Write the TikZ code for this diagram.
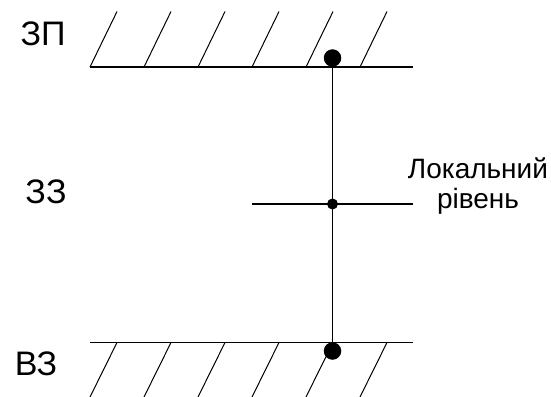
\documentclass[tikz,border=0pt]{standalone}
\usepackage{fontspec}
\setmainfont{Liberation Sans}
\begin{document}
\begin{tikzpicture}[x=1pt,y=-1pt,
  surface/.style={line width=1.3pt},
  hatch/.style={line width=1pt},
  stem/.style={line width=1.2pt},
  bigdot/.style={circle,fill=black,inner sep=0pt,minimum size=17.5pt},
  smalldot/.style={circle,fill=black,inner sep=0pt,minimum size=11pt},
  bigtext/.style={font=\fontsize{34}{40}\selectfont,inner sep=0pt,anchor=base},
  smalltext/.style={font=\fontsize{28}{30}\selectfont,inner sep=0pt,align=center}]
\useasboundingbox (0,0) rectangle (551,396);
% top surface
\coordinate (tl) at (90,67);
\coordinate (tr) at (413,67);
\draw[surface] (tl) -- (tr);
\foreach \k in {0,...,5}{
  \coordinate (tb\k) at (90+54*\k,67);
  \coordinate (tt\k) at (117+54*\k,11.5);
  \draw[hatch] (tb\k) -- (tt\k);
}
% bottom surface
\coordinate (bl) at (90,342.5);
\coordinate (br) at (413,342.5);
\draw[surface] (bl) -- (br);
\foreach \k in {0,...,5}{
  \coordinate (bt\k) at (117+54*\k,342.5);
  \coordinate (bb\k) at (90+54*\k,397);
  \draw[hatch] (bt\k) -- (bb\k);
}
% local level line
\coordinate (ml) at (252,204);
\coordinate (mr) at (413,204);
\draw[stem] (ml) -- (mr);
% dots
\node[bigdot] (top) at (332.5,58) {};
\node[bigdot] (bot) at (332.5,351) {};
\node[smalldot] (mid) at (332.5,204) {};
\draw[stem] (top.center) -- (mid.center) -- (bot.center);
% labels
\node[bigtext] (zp) at (43,46) {ЗП};
\node[bigtext] (zz) at (46,203) {ЗЗ};
\node[bigtext] (vz) at (36,375) {ВЗ};
\node[smalltext] (loc) at (478,186) {Локальний\\рівень};
\end{tikzpicture}
\end{document}
